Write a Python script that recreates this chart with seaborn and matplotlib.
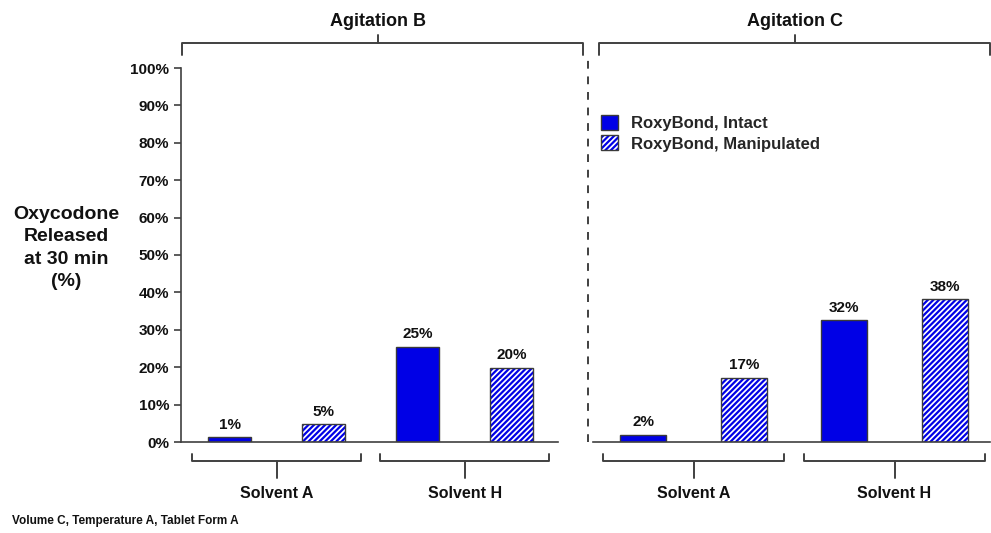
import matplotlib
matplotlib.use("Agg")
import matplotlib.pyplot as plt
import matplotlib.colors as mcolors
import seaborn as sns
from matplotlib.patches import Patch

sns.set_theme(style="white")
plt.rcParams['font.family'] = ['Liberation Sans', 'DejaVu Sans']
plt.rcParams['font.weight'] = 'bold'
plt.rcParams['hatch.linewidth'] = 1.6

# data
bar_keys = ['A-Intact', 'A-Manipulated', 'H-Intact', 'H-Manipulated']
agitation_b = [1.3, 4.7, 25.5, 19.9]
agitation_b_labels = ['1%', '5%', '25%', '20%']
agitation_c = [2.0, 17.1, 32.6, 38.2]
agitation_c_labels = ['2%', '17%', '32%', '38%']
solvents = ['Solvent A', 'Solvent H']
panels = ['Agitation B', 'Agitation C']
series = ['RoxyBond, Intact', 'RoxyBond, Manipulated']
y_ticks = list(range(0, 101, 10))

BLUE = '#0000e6'
EDGE = '#3a3a3a'
LINE = '#404040'

W, H = 991, 533
fig = plt.figure(figsize=(W / 100, H / 100), dpi=100)


def px_box(x0, x1, ytop, ybot):
    return [x0 / W, 1 - ybot / H, (x1 - x0) / W, (ybot - ytop) / H]


def blue_hatch(p):
    # hatch follows the edge colour in this matplotlib, so override it
    if hasattr(p, 'set_hatchcolor'):
        p.set_hatchcolor(BLUE)
    p._hatch_color = mcolors.to_rgba(BLUE)


ax1 = fig.add_axes(px_box(181, 588, 68, 442))
ax2 = fig.add_axes(px_box(588, 990, 68, 442))


def draw_panel(ax, values, labels, xlim, spine_bounds):
    sns.barplot(x=bar_keys, y=values, order=bar_keys, ax=ax, width=0.46,
                color=BLUE, saturation=1)
    for i, p in enumerate(ax.patches):
        p.set_edgecolor(EDGE)
        p.set_linewidth(1.0)
        if i % 2 == 1:
            p.set_facecolor('white')
            p.set_hatch('//////')
            blue_hatch(p)
    for p, lab in zip(ax.patches, labels):
        ax.annotate(lab, (p.get_x() + p.get_width() / 2, p.get_height()),
                    xytext=(0, 4), textcoords='offset points',
                    ha='center', va='bottom', fontsize=11, fontweight='bold',
                    color='#111111')
    ax.set_xlim(*xlim)
    ax.set_ylim(0, 100)
    ax.set_xticks([])
    ax.set_xlabel('')
    ax.set_ylabel('')
    for s in ['top', 'right']:
        ax.spines[s].set_visible(False)
    ax.spines['bottom'].set_color(LINE)
    ax.spines['bottom'].set_linewidth(1.2)
    ax.spines['bottom'].set_bounds(*spine_bounds)
    ax.patch.set_alpha(0)

    # solvent brackets under the axis
    tr = ax.get_xaxis_transform()
    for center, name in zip([0.5, 2.5], solvents):
        hw = 0.9
        ax.plot([center - hw, center - hw, center + hw, center + hw],
                [-0.032, -0.051, -0.051, -0.032], transform=tr,
                color=LINE, lw=1.4, clip_on=False)
        ax.plot([center, center], [-0.051, -0.096], transform=tr,
                color=LINE, lw=1.4, clip_on=False)
        ax.text(center, -0.138, name, transform=tr, ha='center', va='center',
                fontsize=11.5, fontweight='bold', color='#111111')


draw_panel(ax1, agitation_b, agitation_b_labels, (-0.52, 3.81), (-0.52, 3.49))
draw_panel(ax2, agitation_c, agitation_c_labels, (-0.55, 3.45), (-0.50, 3.45))

# y axis
ax1.set_yticks(y_ticks)
ax1.set_yticklabels([f'{t}%' for t in y_ticks], fontsize=11, fontweight='bold',
                    color='#111111')
ax1.tick_params(axis='y', direction='out', length=5, width=1.2, color=LINE, left=True)
ax1.spines['left'].set_color(LINE)
ax1.spines['left'].set_linewidth(1.2)
ax2.set_yticks([])
ax2.spines['left'].set_visible(False)

# dashed separator
ax2.plot([0, 0], [0, 1.035], transform=ax2.transAxes, color=LINE, lw=1.4,
         linestyle=(0, (4, 4)), clip_on=False)

# agitation brackets above
for ax, (x0, x1, xc), name in zip([ax1, ax2],
                                  [(0.002, 0.988, 0.484), (0.027, 0.999, 0.515)],
                                  panels):
    ax.plot([x0, x0, x1, x1], [1.035, 1.067, 1.067, 1.035], transform=ax.transAxes,
            color=LINE, lw=1.4, clip_on=False)
    ax.plot([xc, xc], [1.067, 1.088], transform=ax.transAxes,
            color=LINE, lw=1.4, clip_on=False)
    ax.text(xc, 1.125, name, transform=ax.transAxes, ha='center', va='center',
            fontsize=13, fontweight='bold', color='#111111',
            family=['Liberation Sans Narrow', 'Liberation Sans'])

# legend
handles = [Patch(facecolor=BLUE, edgecolor=EDGE, label=series[0]),
           Patch(facecolor='white', edgecolor=EDGE, hatch='//////', label=series[1])]
leg = ax2.legend(handles=handles, loc='upper left', bbox_to_anchor=(0.032, 0.874),
                 frameon=False, fontsize=12, handlelength=1.0, handleheight=1.0,
                 handletextpad=0.8, labelspacing=0.25, borderaxespad=0, borderpad=0)
blue_hatch(leg.get_patches()[1])

# y label and footnote
fig.text(66 / W, 1 - 248 / H, 'Oxycodone\nReleased\nat 30 min\n(%)', ha='center',
         va='center', fontsize=14, fontweight='bold', linespacing=1.42, color='#111111')
fig.text(12 / W, 1 - 521 / H, 'Volume C, Temperature A, Tablet Form A', ha='left',
         va='center', fontsize=8.5, fontweight='bold', color='#111111')

fig.savefig('out.png', dpi=100)
